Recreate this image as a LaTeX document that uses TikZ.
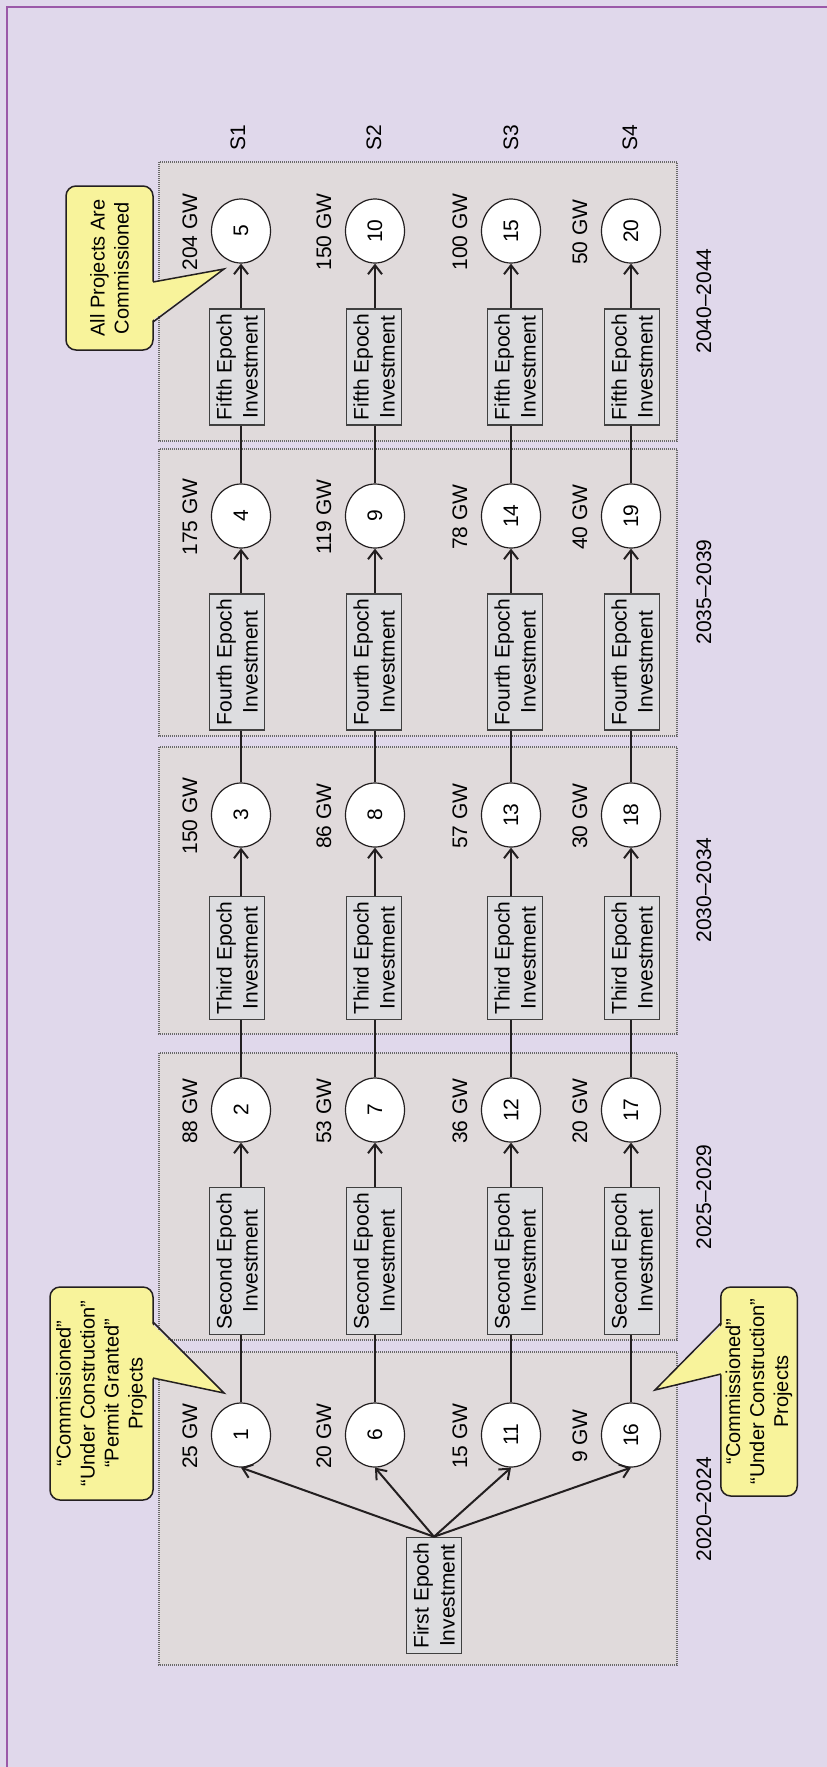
\documentclass[tikz,border=0pt]{standalone}
\usepackage{fontspec}
\setmainfont{Liberation Sans}
\usetikzlibrary{arrows.meta,shapes.geometric}
\definecolor{bgc}{RGB}{224,216,235}
\definecolor{framec}{RGB}{155,89,168}
\definecolor{epochc}{RGB}{224,218,219}
\definecolor{invc}{RGB}{221,221,224}
\definecolor{callc}{RGB}{248,243,155}
\definecolor{linec}{RGB}{35,31,32}
\definecolor{dotc}{RGB}{105,105,105}
\newcommand\figfont{\fontsize{21}{26}\selectfont}
\newcommand\callfont{\fontsize{20}{24}\selectfont}
\begin{document}
\begin{tikzpicture}[x=1pt,y=-1pt,
 circ/.style={ellipse, draw=linec, line width=1.2pt, fill=white, minimum width=64pt, minimum height=59pt, inner sep=0pt, rotate=90, font=\figfont},
 inv/.style={rectangle, draw=black!75, line width=1.4pt, fill=invc, align=center, inner xsep=5pt, inner ysep=7pt, rotate=90, font=\figfont},
 lbl/.style={rotate=90, font=\figfont, inner sep=0pt},
 callout/.style={rectangle, rounded corners=10pt, draw=linec, line width=1.5pt, fill=callc, align=center, rotate=90, font=\callfont, inner sep=2pt},
 epoch/.style={draw=dotc, line width=1.1pt, dash pattern=on 1pt off 1pt, fill=epochc},
 conn/.style={draw=linec, line width=2pt},
 arr/.style={conn, -{Straight Barb[length=9pt,width=14pt]}},
 ptr/.style={draw=linec, line width=1.5pt, line join=miter}
]
\useasboundingbox (0,0) rectangle (827,1767);
\fill[bgc] (0,0) rectangle (827,1767);
\draw[framec, line width=2.5pt] (7,1767) -- (7,7) -- (827,7);

% epoch boxes
\path[epoch] (159,162) rectangle (677,441);
\path[epoch] (159,449) rectangle (677,736);
\path[epoch] (159,747) rectangle (677,1034);
\path[epoch] (159,1053) rectangle (677,1340);
\path[epoch] (159,1352) rectangle (677,1665);

% year labels
\node[lbl] (y1) at (704,1509) {2020–2024};
\node[lbl] (y2) at (704,1197) {2025–2029};
\node[lbl] (y3) at (704,890) {2030–2034};
\node[lbl] (y4) at (704,592) {2035–2039};
\node[lbl] (y5) at (704,301) {2040–2044};

% scenario labels
\node[lbl] (s1) at (238,138) {S1};
\node[lbl] (s2) at (374,138) {S2};
\node[lbl] (s3) at (511,138) {S3};
\node[lbl] (s4) at (630,138) {S4};

\foreach \r/\x/\bx/\ga/\gb/\gc/\gd/\ge in {0/241/237/25/88/150/175/204, 1/375/374/20/53/86/119/150, 2/511/515/15/36/57/78/100, 3/631/632/9/20/30/40/50}{
  \foreach \e/\cy/\g in {1/1435/\ga, 2/1110/\gb, 3/815/\gc, 4/516/\gd, 5/231/\ge}{
    \pgfmathtruncatemacro\n{5*\r+\e}
    \node[circ] (n\n) at (\x,\cy) {\n};
    \node[lbl] (g\n) at (\x-51,\cy+1) {\g\ GW};
  }
  \foreach \e/\iy/\nm in {2/1261/Second, 3/958/Third, 4/662/Fourth, 5/367/Fifth}{
    \pgfmathtruncatemacro\n{5*\r+\e}
    \pgfmathtruncatemacro\p{5*\r+\e-1}
    \node[inv] (i\n) at (\bx,\iy) {\nm{} Epoch\\Investment};
    \draw[conn] (n\p.east) -- (n\p.east |- i\n.west);
    \draw[arr] (n\n.west |- i\n.east) -- (n\n.west);
  }
}

% first epoch
\node[inv] (first) at (434,1595.5) {First Epoch\\Investment};
\foreach \t in {1,6,11,16}{
  \draw[arr] (first.east) -- (n\t.west);
}

% callouts
\node[callout, minimum width=164pt, minimum height=87pt] (call1) at (109.5,268) {All Projects Are\\Commissioned};
\coordinate (t1) at (224,269);
\fill[callc] (150,282) -- (t1) -- (150,322) -- cycle;
\draw[ptr] (153,282) -- (t1) -- (153,322);

\node[callout, minimum width=213pt, minimum height=103pt] (call2) at (101.5,1393.5) {“Commissioned”\\“Under Construction”\\“Permit Granted”\\Projects};
\coordinate (t2) at (224,1393);
\fill[callc] (150,1322) -- (t2) -- (150,1378) -- cycle;
\draw[ptr] (153,1322) -- (t2) -- (153,1378);

\node[callout, minimum width=209pt, minimum height=76.5pt] (call3) at (759,1391.5) {“Commissioned”\\“Under Construction”\\Projects};
\coordinate (t3) at (655,1390);
\fill[callc] (724,1323) -- (t3) -- (724,1374) -- cycle;
\draw[ptr] (721,1323) -- (t3) -- (721,1374);
\end{tikzpicture}
\end{document}
